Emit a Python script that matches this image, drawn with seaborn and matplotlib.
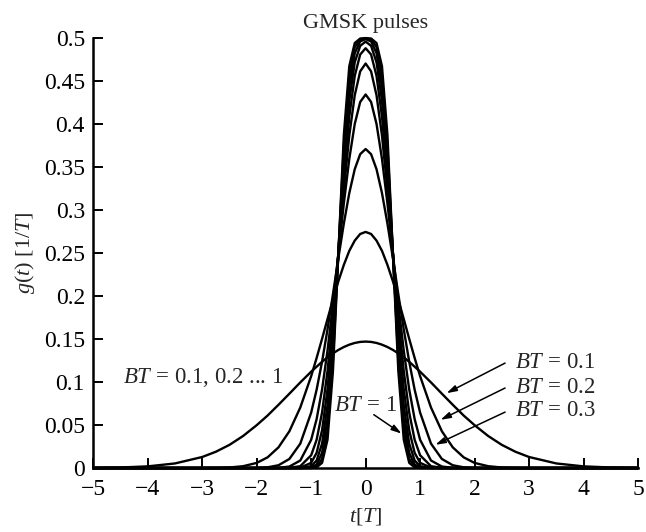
import numpy as np
import pandas as pd
import matplotlib
matplotlib.use("Agg")
import matplotlib.pyplot as plt
import seaborn as sns

# ---- data ----
t_vals = [-5, -4.5, -4, -3.5, -3, -2.75, -2.5, -2.25, -2, -1.8, -1.6, -1.4, -1.2,
          -1, -0.9, -0.8, -0.7, -0.6, -0.5, -0.4, -0.3, -0.2, -0.1, 0,
          0.1, 0.2, 0.3, 0.4, 0.5, 0.6, 0.7, 0.8, 0.9, 1,
          1.2, 1.4, 1.6, 1.8, 2, 2.25, 2.5, 2.75, 3, 3.5, 4, 4.5, 5]

g_bt01 = [0.0002, 0.0006, 0.0019, 0.0053, 0.0128, 0.0189, 0.0269, 0.0372, 0.0498, 0.0610, 0.0735, 0.0864, 0.0995,
          0.1120, 0.1178, 0.1235, 0.1287, 0.1333, 0.1373, 0.1407, 0.1434, 0.1454, 0.1466, 0.1470,
          0.1466, 0.1454, 0.1434, 0.1407, 0.1373, 0.1333, 0.1287, 0.1235, 0.1178, 0.1120,
          0.0995, 0.0864, 0.0735, 0.0610, 0.0498, 0.0372, 0.0269, 0.0189, 0.0128, 0.0053, 0.0019, 0.0006, 0.0002]
g_bt02 = [0.0, 0.0, 0.0, 0.0, 0.0, 0.0002, 0.0006, 0.0021, 0.0059, 0.0124, 0.0240, 0.0427, 0.0703,
          0.1068, 0.1279, 0.1502, 0.1732, 0.1957, 0.2172, 0.2362, 0.2525, 0.2644, 0.2721, 0.2745,
          0.2721, 0.2644, 0.2525, 0.2362, 0.2172, 0.1957, 0.1732, 0.1502, 0.1279, 0.1068,
          0.0703, 0.0427, 0.0240, 0.0124, 0.0059, 0.0021, 0.0006, 0.0002, 0.0, 0.0, 0.0, 0.0, 0.0]
g_bt03 = [0.0, 0.0, 0.0, 0.0, 0.0, 0.0, 0.0, 0.0, 0.0002, 0.0008, 0.0032, 0.0105, 0.0283,
          0.0644, 0.0910, 0.1236, 0.1611, 0.2021, 0.2441, 0.2843, 0.3197, 0.3474, 0.3649, 0.3709,
          0.3649, 0.3474, 0.3197, 0.2843, 0.2441, 0.2021, 0.1611, 0.1236, 0.0910, 0.0644,
          0.0283, 0.0105, 0.0032, 0.0008, 0.0002, 0.0, 0.0, 0.0, 0.0, 0.0, 0.0, 0.0, 0.0]
g_bt04 = [0.0, 0.0, 0.0, 0.0, 0.0, 0.0, 0.0, 0.0, 0.0, 0.0, 0.0002, 0.0017, 0.0087,
          0.0328, 0.0568, 0.0913, 0.1364, 0.1905, 0.2494, 0.3077, 0.3595, 0.4000, 0.4256, 0.4343,
          0.4256, 0.4000, 0.3595, 0.3077, 0.2494, 0.1905, 0.1364, 0.0913, 0.0568, 0.0328,
          0.0087, 0.0017, 0.0002, 0.0, 0.0, 0.0, 0.0, 0.0, 0.0, 0.0, 0.0, 0.0, 0.0]
g_bt05 = [0.0, 0.0, 0.0, 0.0, 0.0, 0.0, 0.0, 0.0, 0.0, 0.0, 0.0, 0.0002, 0.0021,
          0.0148, 0.0328, 0.0645, 0.1127, 0.1765, 0.2500, 0.3233, 0.3866, 0.4334, 0.4612, 0.4703,
          0.4612, 0.4334, 0.3866, 0.3233, 0.2500, 0.1765, 0.1127, 0.0645, 0.0328, 0.0148,
          0.0021, 0.0002, 0.0, 0.0, 0.0, 0.0, 0.0, 0.0, 0.0, 0.0, 0.0, 0.0, 0.0]
g_bt06 = [0.0, 0.0, 0.0, 0.0, 0.0, 0.0, 0.0, 0.0, 0.0, 0.0, 0.0, 0.0, 0.0004,
          0.0060, 0.0176, 0.0438, 0.0914, 0.1628, 0.2500, 0.3372, 0.4086, 0.4559, 0.4808, 0.4881,
          0.4808, 0.4559, 0.4086, 0.3372, 0.2500, 0.1628, 0.0914, 0.0438, 0.0176, 0.0060,
          0.0004, 0.0, 0.0, 0.0, 0.0, 0.0, 0.0, 0.0, 0.0, 0.0, 0.0, 0.0, 0.0]
g_bt07 = [0.0, 0.0, 0.0, 0.0, 0.0, 0.0, 0.0, 0.0, 0.0, 0.0, 0.0, 0.0, 0.0001,
          0.0021, 0.0087, 0.0283, 0.0729, 0.1494, 0.2500, 0.3506, 0.4272, 0.4717, 0.4909, 0.4958,
          0.4909, 0.4717, 0.4272, 0.3506, 0.2500, 0.1494, 0.0729, 0.0283, 0.0087, 0.0021,
          0.0001, 0.0, 0.0, 0.0, 0.0, 0.0, 0.0, 0.0, 0.0, 0.0, 0.0, 0.0, 0.0]
g_bt08 = [0.0, 0.0, 0.0, 0.0, 0.0, 0.0, 0.0, 0.0, 0.0, 0.0, 0.0, 0.0, 0.0,
          0.0007, 0.0040, 0.0176, 0.0569, 0.1366, 0.2500, 0.3634, 0.4431, 0.4824, 0.4960, 0.4987,
          0.4960, 0.4824, 0.4431, 0.3634, 0.2500, 0.1366, 0.0569, 0.0176, 0.0040, 0.0007,
          0.0, 0.0, 0.0, 0.0, 0.0, 0.0, 0.0, 0.0, 0.0, 0.0, 0.0, 0.0, 0.0]
g_bt09 = [0.0, 0.0, 0.0, 0.0, 0.0, 0.0, 0.0, 0.0, 0.0, 0.0, 0.0, 0.0, 0.0,
          0.0002, 0.0017, 0.0105, 0.0438, 0.1244, 0.2500, 0.3757, 0.4562, 0.4895, 0.4983, 0.4997,
          0.4983, 0.4895, 0.4562, 0.3757, 0.2500, 0.1244, 0.0438, 0.0105, 0.0017, 0.0002,
          0.0, 0.0, 0.0, 0.0, 0.0, 0.0, 0.0, 0.0, 0.0, 0.0, 0.0, 0.0, 0.0]
g_bt10 = [0.0, 0.0, 0.0, 0.0, 0.0, 0.0, 0.0, 0.0, 0.0, 0.0, 0.0, 0.0, 0.0,
          0.0, 0.0007, 0.0060, 0.0329, 0.1128, 0.2500, 0.3873, 0.4672, 0.4941, 0.4994, 0.4999,
          0.4994, 0.4941, 0.4672, 0.3873, 0.2500, 0.1128, 0.0329, 0.0060, 0.0007, 0.0,
          0.0, 0.0, 0.0, 0.0, 0.0, 0.0, 0.0, 0.0, 0.0, 0.0, 0.0, 0.0, 0.0]

bt_labels = ["0.1", "0.2", "0.3", "0.4", "0.5", "0.6", "0.7", "0.8", "0.9", "1"]
series = [g_bt01, g_bt02, g_bt03, g_bt04, g_bt05, g_bt06, g_bt07, g_bt08, g_bt09, g_bt10]

x_ticks = [-5, -4, -3, -2, -1, 0, 1, 2, 3, 4, 5]
x_ticklabels = ["\u22125", "\u22124", "\u22123", "\u22122", "\u22121", "0", "1", "2", "3", "4", "5"]
y_ticks = [0, 0.05, 0.1, 0.15, 0.2, 0.25, 0.3, 0.35, 0.4, 0.45, 0.5]
y_ticklabels = ["0", "0.05", "0.1", "0.15", "0.2", "0.25", "0.3", "0.35", "0.4", "0.45", "0.5"]

# ---- style ----
sns.set_style("ticks")
plt.rcParams["font.family"] = ["Liberation Serif", "DejaVu Serif"]
plt.rcParams["mathtext.fontset"] = "custom"
plt.rcParams["mathtext.rm"] = "Liberation Serif"
plt.rcParams["mathtext.it"] = "Liberation Serif:italic"

df = pd.DataFrame({
    "t": np.tile(t_vals, len(series)),
    "g": np.concatenate(series),
    "BT": np.repeat(bt_labels, len(t_vals)),
})

fig = plt.figure(figsize=(6.46, 5.32), dpi=100)
ax = fig.add_axes([0.1444, 0.1203, 0.8432, 0.8083])

sns.lineplot(data=df, x="t", y="g", hue="BT", units="BT", estimator=None,
             palette=["black"] * len(series), linewidth=1.7, legend=False,
             sort=False, ax=ax, clip_on=False)

ax.set_xlim(-5, 5)
ax.set_ylim(0, 0.5)
ax.set_xticks(x_ticks)
ax.set_xticklabels(x_ticklabels)
ax.set_yticks(y_ticks)
ax.set_yticklabels(y_ticklabels)
ax.tick_params(direction="in", length=7, width=1.4, labelsize=17, colors="black")
ax.tick_params(axis="x", pad=8)
ax.tick_params(axis="y", pad=6)
for s in ["top", "right"]:
    ax.spines[s].set_visible(False)
for s in ["left", "bottom"]:
    ax.spines[s].set_linewidth(1.8)
    ax.spines[s].set_color("black")

ax.set_title("GMSK pulses", fontsize=16, pad=7)
ax.set_xlabel("$t$[$T$]", fontsize=16, labelpad=4)
ax.set_ylabel("$g(t)$ [1/$T$]", fontsize=16, labelpad=5)

fs = 16.5
ax.text(-4.46, 0.105, "$BT$ = 0.1, 0.2 ... 1", fontsize=fs, va="center", ha="left")
ax.text(2.75, 0.123, "$BT$ = 0.1", fontsize=fs, va="center", ha="left")
ax.text(2.75, 0.094, "$BT$ = 0.2", fontsize=fs, va="center", ha="left")
ax.text(2.75, 0.067, "$BT$ = 0.3", fontsize=fs, va="center", ha="left")
ax.text(0.57, 0.073, "$BT$ = 1", fontsize=fs, va="center", ha="right")

arrow = dict(arrowstyle="-|>,head_length=0.6,head_width=0.18", color="black", lw=1.1,
             shrinkA=0, shrinkB=0)
ax.annotate("", xy=(1.485, 0.087), xytext=(2.56, 0.122), arrowprops=arrow)
ax.annotate("", xy=(1.375, 0.056), xytext=(2.56, 0.093), arrowprops=arrow)
ax.annotate("", xy=(1.28, 0.027), xytext=(2.56, 0.065), arrowprops=arrow)
ax.annotate("", xy=(0.66, 0.040), xytext=(0.15, 0.062), arrowprops=arrow)

fig.savefig("out.png", dpi=100)
